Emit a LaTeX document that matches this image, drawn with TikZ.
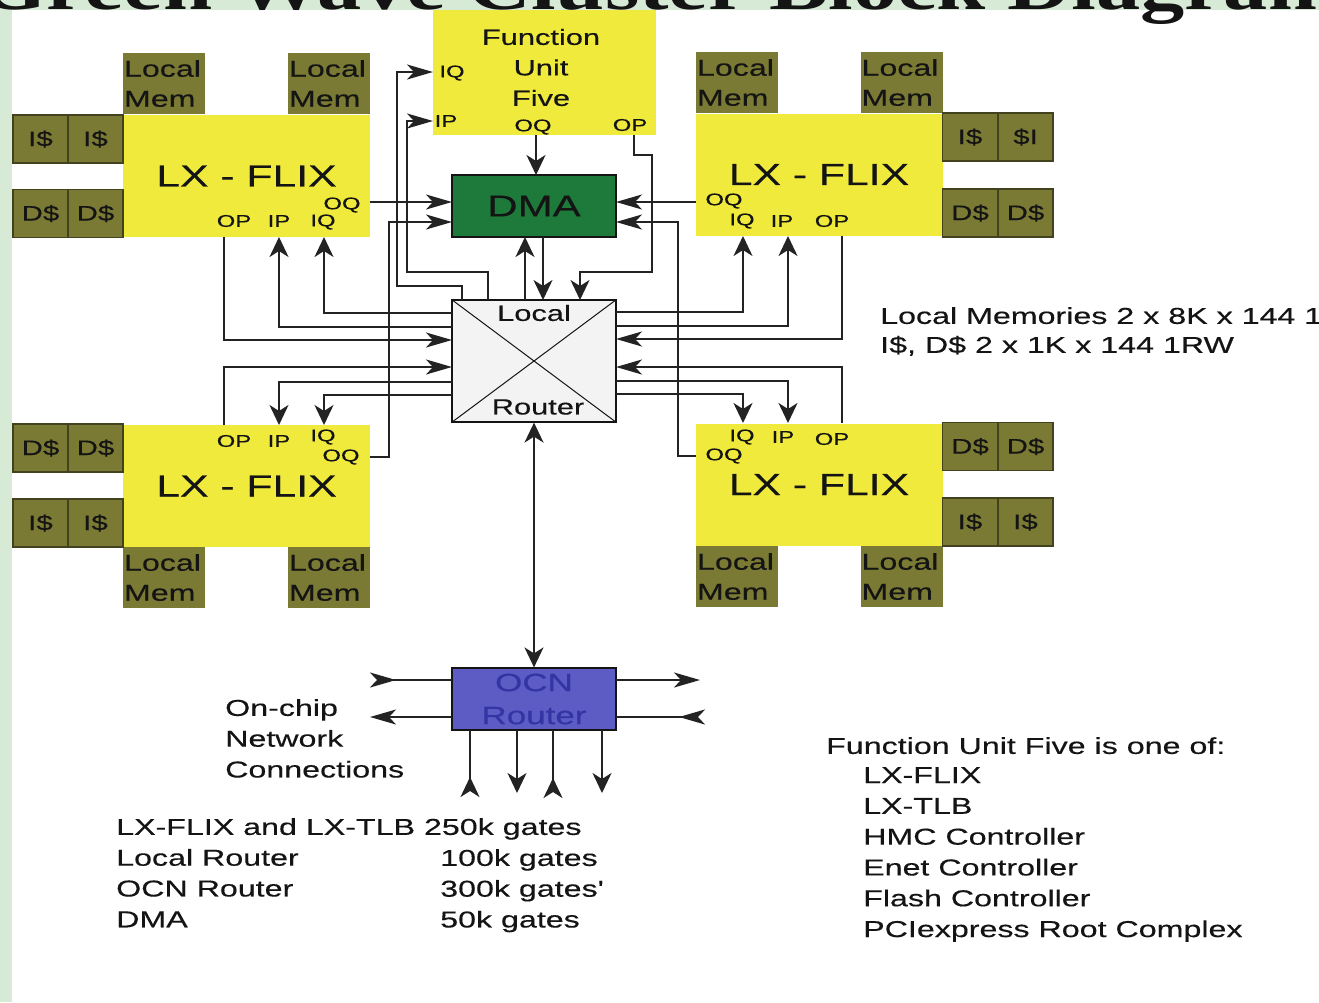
\documentclass[tikz,border=0pt]{standalone}
\usepackage{fontspec}
\setmainfont[FakeStretch=1.4,FakeBold=0.3]{Liberation Sans}
\newfontfamily\ttlfont[FakeStretch=1.3]{Liberation Serif}
\usetikzlibrary{arrows.meta}
\definecolor{bggreen}{RGB}{214,234,214}
\definecolor{flixyellow}{RGB}{240,234,60}
\definecolor{memolive}{RGB}{122,122,52}
\definecolor{memedge}{RGB}{66,66,30}
\definecolor{dmagreen}{RGB}{30,122,58}
\definecolor{rtgray}{RGB}{243,243,243}
\definecolor{ocnblue}{RGB}{92,92,196}
\definecolor{ocntext}{RGB}{52,52,165}
\definecolor{ink}{RGB}{20,20,20}
\definecolor{wirecol}{RGB}{35,35,35}
\begin{document}
\begin{tikzpicture}[x=1pt,y=-1pt,
  >={Stealth[length=26pt,width=15pt,inset=7pt]},
  vt/.style={>={Stealth[length=20pt,width=19pt,inset=6pt]}},
  wire/.style={draw=wirecol,line width=2pt},
  flix/.style={fill=flixyellow,inner sep=0pt,minimum width=247pt,minimum height=122pt,font=\fontsize{30.5}{30.5}\selectfont,text=ink},
  mem/.style={fill=memolive,inner sep=1pt,minimum width=82pt,minimum height=61pt,text width=80pt,align=left,font=\fontsize{23}{30}\selectfont,text=ink},
  cache/.style={draw=memedge,line width=1.2pt,fill=memolive,inner sep=0pt,minimum width=55pt,minimum height=48pt,font=\fontsize{21}{21}\selectfont,text=ink},
  port/.style={inner sep=0pt,font=\fontsize{17}{17}\selectfont,text=ink},
  unit/.style={draw=ink,line width=1.2pt,inner sep=0pt,minimum width=164pt},
  note/.style={anchor=north west,inner sep=0pt,align=left,font=\fontsize{23}{30.8}\selectfont,text=ink}]
\useasboundingbox (0,0) rectangle (1319,1002);
\clip (0,0) rectangle (1319,1002);
\fill[white] (0,0) rectangle (1319,1002);
\fill[bggreen] (0,0) rectangle (1319,10);
\fill[bggreen] (0,0) rectangle (12,1002);
\node[anchor=base west,inner sep=0pt,font=\ttlfont\bfseries\fontsize{68}{68}\selectfont,text=ink] (title) at (-22,9) {Green Wave Cluster Block Diagram};

\node[flix] (tl) at (246.5,176) {LX - FLIX};
\node[mem] (tl-m1) at (164,83.5) {Local\\Mem};
\node[mem] (tl-m2) at (329,83.5) {Local\\Mem};
\node[cache] (tl-i1) at (40.5,139) {I\$};
\node[cache] (tl-i2) at (95.5,139) {I\$};
\node[cache] (tl-d1) at (40.5,213.5) {D\$};
\node[cache] (tl-d2) at (95.5,213.5) {D\$};
\node[port] (tl-oq) at (342,205) {OQ};
\node[port] (tl-op) at (234,221) {OP};
\node[port] (tl-ip) at (279,221) {IP};
\node[port] (tl-iq) at (323,222) {IQ};

\node[flix] (tr) at (819,174.5) {LX - FLIX};
\node[mem] (tr-m1) at (737,82.5) {Local\\Mem};
\node[mem] (tr-m2) at (901.5,82.5) {Local\\Mem};
\node[cache] (tr-i1) at (970,137) {I\$};
\node[cache] (tr-i2) at (1025.5,137) {\$I};
\node[cache] (tr-d1) at (970,213) {D\$};
\node[cache] (tr-d2) at (1025.5,213) {D\$};
\node[port] (tr-oq) at (724,201) {OQ};
\node[port] (tr-iq) at (742,221) {IQ};
\node[port] (tr-ip) at (782,221) {IP};
\node[port] (tr-op) at (832,221) {OP};

\node[flix] (bl) at (246.5,486) {LX - FLIX};
\node[mem] (bl-m1) at (164,577.5) {Local\\Mem};
\node[mem] (bl-m2) at (329,577.5) {Local\\Mem};
\node[cache] (bl-d1) at (40.5,448) {D\$};
\node[cache] (bl-d2) at (95.5,448) {D\$};
\node[cache] (bl-i1) at (40.5,523) {I\$};
\node[cache] (bl-i2) at (95.5,523) {I\$};
\node[port] (bl-op) at (234,441) {OP};
\node[port] (bl-ip) at (279,441) {IP};
\node[port] (bl-iq) at (323,437) {IQ};
\node[port] (bl-oq) at (341,457) {OQ};

\node[flix] (br) at (819,484.5) {LX - FLIX};
\node[mem] (br-m1) at (737,576.5) {Local\\Mem};
\node[mem] (br-m2) at (901.5,576.5) {Local\\Mem};
\node[cache] (br-d1) at (970,446.5) {D\$};
\node[cache] (br-d2) at (1025.5,446.5) {D\$};
\node[cache] (br-i1) at (970,522) {I\$};
\node[cache] (br-i2) at (1025.5,522) {I\$};
\node[port] (br-iq) at (742,437) {IQ};
\node[port] (br-ip) at (783,437) {IP};
\node[port] (br-op) at (832,439) {OP};
\node[port] (br-oq) at (724,456) {OQ};

\node[fill=flixyellow,inner sep=0pt,minimum width=223pt,minimum height=125pt] (fu) at (544.5,72.5) {};
\node[align=center,inner sep=0pt,font=\fontsize{22}{30.5}\selectfont,text=ink] (fu-name) at (541,67.5) {Function\\Unit\\Five};
\node[port] (fu-iq) at (452,73) {IQ};
\node[port] (fu-ip) at (446,121) {IP};
\node[port] (fu-oq) at (533,127) {OQ};
\node[port] (fu-op) at (630,125) {OP};

\node[unit,fill=dmagreen,minimum height=62pt,font=\fontsize{30}{30}\selectfont,text=ink] (dma) at (534,206) {DMA};
\node[unit,fill=rtgray,minimum height=122pt] (lr) at (534,361) {};
\draw[ink,line width=1pt] (lr.north west) -- (lr.south east) (lr.north east) -- (lr.south west);
\node[inner sep=0pt,font=\fontsize{22}{22}\selectfont,text=ink] (lr-a) at (534,313) {Local};
\node[inner sep=0pt,font=\fontsize{22}{22}\selectfont,text=ink] (lr-b) at (538,407) {Router};
\node[unit,fill=ocnblue,minimum height=62pt,align=center,font=\fontsize{25}{33}\selectfont,text=ocntext] (ocn) at (534,699) {OCN\\Router};

\coordinate (tl-oq-p) at (370,202);
\coordinate (tl-op-p) at (224,237);
\coordinate (tl-ip-p) at (279,237);
\coordinate (tl-iq-p) at (324,237);
\coordinate (tr-oq-p) at (696,202);
\coordinate (tr-iq-p) at (743,236);
\coordinate (tr-ip-p) at (788,236);
\coordinate (tr-op-p) at (842,236);
\coordinate (bl-op-p) at (224,425);
\coordinate (bl-ip-p) at (279,425);
\coordinate (bl-iq-p) at (324,425);
\coordinate (bl-oq-p) at (370,457);
\coordinate (br-iq-p) at (743,423);
\coordinate (br-ip-p) at (788,423);
\coordinate (br-op-p) at (842,423);
\coordinate (br-oq-p) at (696,456);
\coordinate (fu-iq-p) at (433,72);
\coordinate (fu-ip-p) at (433,121);
\coordinate (fu-oq-p) at (536,135);
\coordinate (fu-op-p) at (634,135);
\coordinate (dma-n) at (536,175);
\coordinate (dma-w1) at (452,202);
\coordinate (dma-w2) at (452,222);
\coordinate (dma-e1) at (616,202);
\coordinate (dma-e2) at (616,222);
\coordinate (dma-s1) at (525,237);
\coordinate (dma-s2) at (543,237);
\coordinate (lr-n1) at (462,300);
\coordinate (lr-n2) at (488,300);
\coordinate (lr-n3) at (525,300);
\coordinate (lr-n4) at (543,300);
\coordinate (lr-n5) at (580,300);
\coordinate (lr-w1) at (452,313);
\coordinate (lr-w2) at (452,327);
\coordinate (lr-w3) at (452,340);
\coordinate (lr-w4) at (452,367);
\coordinate (lr-w5) at (452,382);
\coordinate (lr-w6) at (452,395);
\coordinate (lr-e1) at (616,312);
\coordinate (lr-e2) at (616,326);
\coordinate (lr-e3) at (616,339);
\coordinate (lr-e4) at (616,367);
\coordinate (lr-e5) at (616,381);
\coordinate (lr-e6) at (616,394);
\coordinate (ocn-w1) at (452,680);
\coordinate (ocn-w2) at (452,717);
\coordinate (ocn-e1) at (616,680);
\coordinate (ocn-e2) at (616,717);
\coordinate (ocn-s1) at (470,730);
\coordinate (ocn-s2) at (517,730);
\coordinate (ocn-s3) at (553,730);
\coordinate (ocn-s4) at (602,730);
\coordinate (net-w1) at (370,680);
\coordinate (net-w2) at (370,717);
\coordinate (net-e1) at (700,680);
\coordinate (net-e2) at (705,717);
\coordinate (net-s1) at (470,797);
\coordinate (net-s2) at (517,793);
\coordinate (net-s3) at (553,798);
\coordinate (net-s4) at (602,793);

\draw[wire,->] (tl-oq-p) -- (dma-w1);
\draw[wire,->] (bl-oq-p) -- ++(19,0) |- (dma-w2);
\draw[wire,->] (tr-oq-p) -- (dma-e1);
\draw[wire,->] (br-oq-p) -- ++(-18,0) |- (dma-e2);
\draw[wire,vt,->] (fu-oq-p) -- (dma-n);
\draw[wire,vt,->] (dma-s2) -- (lr-n4);
\draw[wire,vt,->] (lr-n3) -- (dma-s1);
\draw[wire,vt,->] (fu-op-p) -- ++(0,20) -- ++(18,0) -- ++(0,117) -| (lr-n5);
\draw[wire,->] (lr-n1) -- ++(0,-14) -- ++(-65,0) |- (fu-iq-p);
\draw[wire,->] (lr-n2) -- ++(0,-28) -- ++(-81,0) |- (fu-ip-p);
\draw[wire,->] (tl-op-p) |- (lr-w3);
\draw[wire,vt,->] (lr-w2) -| (tl-ip-p);
\draw[wire,vt,->] (lr-w1) -| (tl-iq-p);
\draw[wire,->] (bl-op-p) |- (lr-w4);
\draw[wire,vt,->] (lr-w5) -| (bl-ip-p);
\draw[wire,vt,->] (lr-w6) -| (bl-iq-p);
\draw[wire,->] (tr-op-p) |- (lr-e3);
\draw[wire,vt,->] (lr-e2) -| (tr-ip-p);
\draw[wire,vt,->] (lr-e1) -| (tr-iq-p);
\draw[wire,->] (br-op-p) |- (lr-e4);
\draw[wire,vt,->] (lr-e5) -| (br-ip-p);
\draw[wire,vt,->] (lr-e6) -| (br-iq-p);
\draw[wire,vt,<->] (lr.south) -- (ocn.north);
\draw[wire,{Stealth[length=26pt,width=15pt,inset=7pt,reversed]}-] (net-w1) -- (ocn-w1);
\draw[wire,->] (ocn-w2) -- (net-w2);
\draw[wire,->] (ocn-e1) -- (net-e1);
\draw[wire,-{Stealth[length=26pt,width=15pt,inset=7pt,reversed]}] (ocn-e2) -- (net-e2);
\draw[wire,-{Stealth[length=20pt,width=19pt,inset=6pt,reversed]}] (ocn-s1) -- (net-s1);
\draw[wire,vt,->] (ocn-s2) -- (net-s2);
\draw[wire,-{Stealth[length=20pt,width=19pt,inset=6pt,reversed]}] (ocn-s3) -- (net-s3);
\draw[wire,vt,->] (ocn-s4) -- (net-s4);

\node[note] (memsize) at (880,307) {Local Memories 2 x 8K x 144 1RW\\[-1.8pt]I\$, D\$ 2 x 1K x 144 1RW};
\node[note] (onchip) at (225,699) {On-chip\\Network\\Connections};
\node[note] (gates) at (116,818) {LX-FLIX and LX-TLB 250k gates\\Local Router\\OCN Router\\DMA};
\node[note] (gatecount) at (440,849) {100k gates\\300k gates\textquotesingle\\50k gates};
\node[note] (fu-head) at (826,737) {Function Unit Five is one of:};
\node[note] (fu-list) at (863,767) {LX-FLIX\\LX-TLB\\HMC Controller\\Enet Controller\\Flash Controller\\PCIexpress Root Complex};
\end{tikzpicture}
\end{document}
